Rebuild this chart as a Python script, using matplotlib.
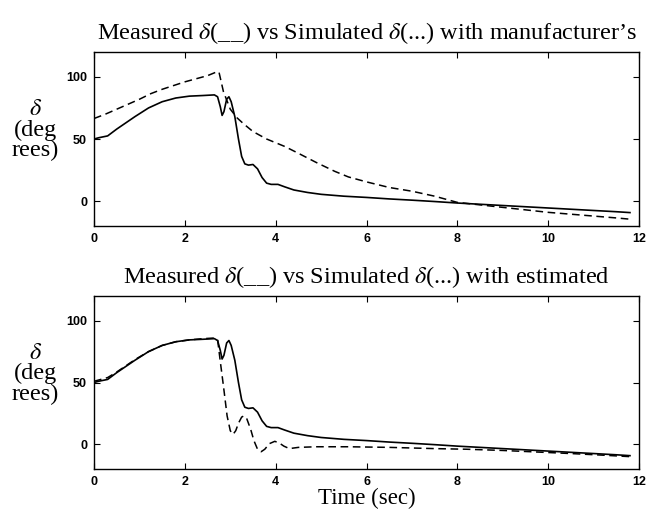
import numpy as np
import matplotlib
matplotlib.use("Agg")
import matplotlib.pyplot as plt

plt.rcParams['mathtext.fontset'] = 'stix'

# Medido (igual en ambas graficas)
t_meas = [0, 0.1, 0.3, 0.5, 0.7, 0.9, 1.2, 1.5, 1.8, 2.1, 2.4, 2.65, 2.72, 2.78,
          2.82, 2.86, 2.92, 2.97, 3.02, 3.1, 3.18, 3.25, 3.32, 3.4, 3.5, 3.6, 3.7,
          3.8, 3.9, 4.05, 4.2, 4.4, 4.7, 5.0, 5.5, 6.0, 6.5, 7.0, 7.5, 8.0, 8.5,
          9.0, 9.5, 10.0, 10.5, 11.0, 11.5, 11.8]
meas = [50, 51, 52.5, 58, 63, 68, 75, 80, 83, 84.5, 85, 85.5, 84, 76,
        69, 72, 82, 84, 80, 68, 50, 36, 30, 29, 29.5, 26, 19,
        14.5, 13.5, 13.5, 11.5, 9, 7, 5.5, 4, 3, 1.8, 0.8, -0.3, -1.5, -2.5,
        -3.5, -4.5, -5.5, -6.5, -7.5, -8.5, -9.2]

# Simulado con parametros del fabricante
t_man = [0, 0.25, 0.5, 0.75, 1.0, 1.25, 1.5, 1.75, 2.0, 2.25, 2.5, 2.7, 2.75,
         2.85, 3.0, 3.15, 3.3, 3.5, 3.8, 4.2, 4.5, 4.9, 5.3, 5.6, 6.0, 6.5, 7.0,
         7.5, 8.0, 8.5, 9.0, 9.5, 10.0, 10.5, 11.0, 11.5, 11.8]
man = [66.5, 70, 74, 78, 82, 86.5, 90, 93, 96, 98.5, 101, 104, 104,
       88, 74, 67, 62, 56, 50, 44, 38.5, 31, 24, 19.5, 15.5, 11, 8,
       4, -1, -3, -5, -7, -9, -10.5, -12, -13.5, -14.5]

# Simulado con parametros estimados
t_est = [0, 0.1, 0.3, 0.5, 0.7, 0.9, 1.2, 1.5, 1.8, 2.1, 2.4, 2.65, 2.72, 2.78,
         2.85, 2.93, 3.0, 3.06, 3.12, 3.18, 3.25, 3.3, 3.36, 3.45, 3.52, 3.6,
         3.68, 3.76, 3.86, 3.98, 4.08, 4.18, 4.3, 4.5, 4.9, 5.6, 6.5, 7.5, 8.2,
         9.0, 9.6, 10.5, 11.2, 11.8]
est = [51, 52, 54, 58.5, 63.5, 68.5, 75, 80, 83, 84.5, 85.5, 86, 85, 67,
       47, 23, 11, 8, 11, 17, 22, 23, 21, 12, 3, -4,
       -6, -4, 0.5, 2.4, 1, -1.5, -3.5, -2.5, -2, -2, -2.5, -3.5, -4,
       -5, -6, -7.5, -8.8, -10]

x_ticks = [0, 2, 4, 6, 8, 10, 12]
y_ticks = [0, 50, 100]

titles = ["Measured $\\delta$(__) vs Simulated $\\delta$(...) with manufacturer\u2019s",
          "Measured $\\delta$(__) vs Simulated $\\delta$(...) with estimated"]
ylabel = "$\\delta$\n(deg\nrees)"

serif = 'Liberation Serif'

fig = plt.figure(figsize=(6.58, 5.11), dpi=100)
ax1 = fig.add_axes([0.1429, 0.5577, 0.8283, 0.3405])
ax2 = fig.add_axes([0.1429, 0.0822, 0.8283, 0.3385])

series = [(t_man, man), (t_est, est)]
for ax, (ts, sim), title in zip([ax1, ax2], series, titles):
    ax.plot(t_meas, meas, color='black', lw=1.2, ls='-')
    ax.plot(ts, sim, color='black', lw=1.1, ls=(0, (5, 3)))
    ax.set_xlim(0, 12)
    ax.set_ylim(-20, 120)
    ax.set_xticks(x_ticks)
    ax.set_yticks(y_ticks)
    ax.tick_params(direction='in', top=True, right=True, length=4, width=0.8,
                   labelsize=9, pad=5)
    for lab in ax.get_xticklabels() + ax.get_yticklabels():
        lab.set_fontfamily('Liberation Sans')
        lab.set_fontweight('bold')
    for sp in ax.spines.values():
        sp.set_linewidth(1.0)
    ax.set_title(title, fontsize=17.5, family=serif, pad=9)
    ax.text(-0.108, 0.55, ylabel, transform=ax.transAxes, ha='center',
            va='center', fontsize=17.5, family=serif, linespacing=0.95)

ax2.text(0.5, -0.168, "Time (sec)", transform=ax2.transAxes, ha='center',
         va='center', fontsize=16.5, family=serif)

fig.savefig("out.png", dpi=100)
